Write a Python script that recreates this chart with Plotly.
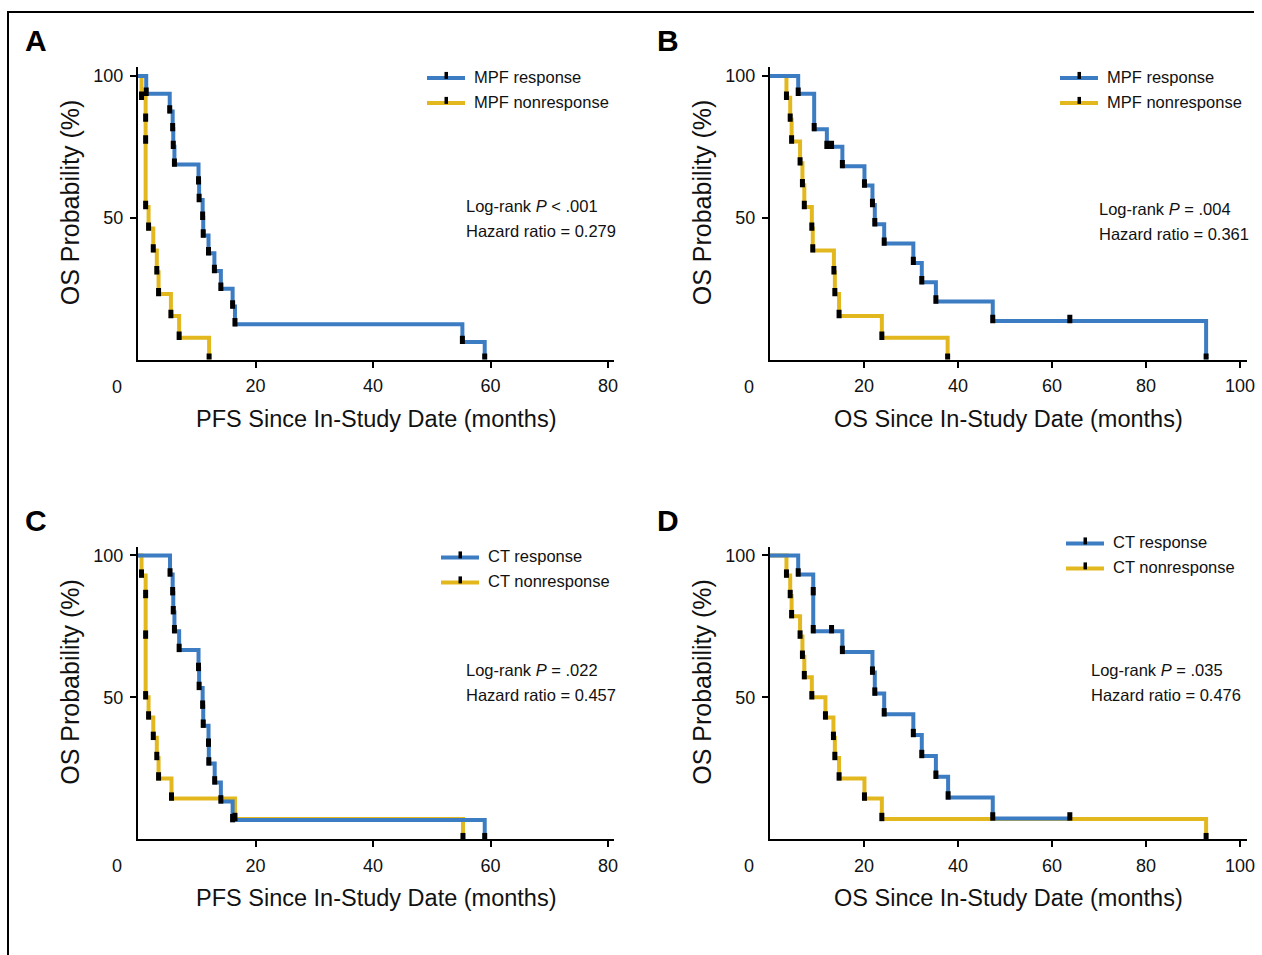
import plotly.graph_objects as go

W, H = 1262, 955
SX = 1262 / 1254  # horizontal compensation for the capture
BLUE = "#3c7cc2"
YELLOW = "#e2b81e"

# ---------------- data ----------------
# Panel A (PFS, MPF)
a_resp_t = [0, 1.4, 5.4, 5.9, 6.0, 6.2, 10.3, 10.4, 11.0, 11.1, 12.0, 13.0, 14.1, 16.1, 16.5, 55.2, 59.0]
a_resp_s = [100, 93.75, 87.5, 81.25, 75.0, 68.75, 62.5, 56.25, 50.0, 43.75, 37.5, 31.25, 25.0, 18.75, 12.5, 6.25, 0]
a_resp_mt = a_resp_t[1:]
a_resp_ms = a_resp_s[1:]
a_non_t = [0, 0.6, 1.3, 1.8, 2.6, 3.2, 3.5, 5.6, 7.0, 12.1]
a_non_s = [100, 92.3, 53.8, 46.2, 38.5, 30.8, 23.1, 15.4, 7.7, 0]
a_non_mt = [0.6, 1.3, 1.3, 1.3, 1.8, 2.6, 3.2, 3.5, 5.6, 7.0, 12.1]
a_non_ms = [92.3, 84.6, 76.9, 53.8, 46.2, 38.5, 30.8, 23.1, 15.4, 7.7, 0]

# Panel B (OS, MPF)
b_resp_t = [0, 6.0, 9.4, 12.1, 15.4, 20.1, 21.8, 22.3, 24.3, 30.5, 32.3, 35.3, 47.4, 92.8]
b_resp_s = [100, 93.75, 81.25, 75.0, 68.2, 61.4, 54.5, 47.7, 40.9, 34.1, 27.3, 20.5, 13.6, 0]
b_resp_mt = [6.0, 9.4, 12.1, 13.1, 15.4, 20.1, 21.8, 22.3, 24.3, 30.5, 32.3, 35.3, 47.4, 63.8, 92.8]
b_resp_ms = [93.75, 81.25, 75.0, 75.0, 68.2, 61.4, 54.5, 47.7, 40.9, 34.1, 27.3, 20.5, 13.6, 13.6, 0]
b_non_t = [0, 3.5, 4.3, 4.6, 6.4, 6.9, 7.3, 8.9, 9.1, 13.6, 13.8, 14.7, 23.8, 37.8]
b_non_s = [100, 92.3, 84.6, 76.9, 69.2, 61.5, 53.8, 46.2, 38.5, 30.8, 23.1, 15.4, 7.7, 0]
b_non_mt = b_non_t[1:]
b_non_ms = b_non_s[1:]

# Panel C (PFS, CT)
c_resp_t = [0, 5.45, 5.9, 6.0, 6.2, 7.0, 10.3, 10.4, 11.0, 11.1, 12.0, 12.05, 13.05, 14.1, 16.1, 59.0]
c_resp_s = [100, 93.3, 86.7, 80.0, 73.3, 66.7, 60.0, 53.3, 46.7, 40.0, 33.3, 26.7, 20.0, 13.3, 6.7, 0]
c_resp_mt = c_resp_t[1:]
c_resp_ms = c_resp_s[1:]
c_non_t = [0, 0.6, 1.3, 1.8, 2.6, 3.2, 3.5, 5.7, 16.5, 55.3]
c_non_s = [100, 92.9, 50.0, 42.9, 35.7, 28.6, 21.4, 14.3, 7.1, 0]
c_non_mt = [0.6, 1.3, 1.3, 1.3, 1.8, 2.6, 3.2, 3.5, 5.7, 16.5, 55.3]
c_non_ms = [92.9, 85.7, 71.4, 50.0, 42.9, 35.7, 28.6, 21.4, 14.3, 7.1, 0]

# Panel D (OS, CT)
d_resp_t = [0, 6.0, 9.2, 15.4, 21.8, 22.3, 24.3, 30.5, 32.3, 35.3, 37.9, 47.4, 63.8]
d_resp_s = [100, 93.3, 73.3, 66.0, 58.7, 51.3, 44.0, 36.7, 29.3, 22.0, 14.7, 7.3, 7.3]
d_resp_mt = [6.0, 9.2, 9.2, 13.1, 15.4, 21.8, 22.3, 24.3, 30.5, 32.3, 35.3, 37.9, 47.4, 63.8]
d_resp_ms = [93.3, 86.7, 73.3, 73.3, 66.0, 58.7, 51.3, 44.0, 36.7, 29.3, 22.0, 14.7, 7.3, 7.3]
d_non_t = [0, 3.5, 4.3, 4.6, 6.4, 6.9, 7.3, 8.9, 11.8, 13.5, 13.8, 14.7, 20.1, 23.8, 92.8]
d_non_s = [100, 92.9, 85.7, 78.6, 71.4, 64.3, 57.1, 50.0, 42.9, 35.7, 28.6, 21.4, 14.3, 7.1, 0]
d_non_mt = d_non_t[1:]
d_non_ms = d_non_s[1:]

panel_letters = ["A", "B", "C", "D"]
x_titles = ["PFS Since In-Study Date (months)", "OS Since In-Study Date (months)",
            "PFS Since In-Study Date (months)", "OS Since In-Study Date (months)"]
y_title = "OS Probability (%)"
legend_labels = [["MPF response", "MPF nonresponse"], ["MPF response", "MPF nonresponse"],
                 ["CT response", "CT nonresponse"], ["CT response", "CT nonresponse"]]
logrank_text = ["Log-rank <i>P</i> < .001", "Log-rank <i>P</i> = .004",
                "Log-rank <i>P</i> = .022", "Log-rank <i>P</i> = .035"]
hazard_text = ["Hazard ratio = 0.279", "Hazard ratio = 0.361",
               "Hazard ratio = 0.457", "Hazard ratio = 0.476"]
x_ticks_pfs = [20, 40, 60, 80]
x_ticks_os = [20, 40, 60, 80, 100]
y_ticks = [50, 100]

panels = [
    dict(resp=(a_resp_t, a_resp_s, a_resp_mt, a_resp_ms), non=(a_non_t, a_non_s, a_non_mt, a_non_ms),
         xr=[0, 81], ticks=x_ticks_pfs, px=(138, 614), py=(66.5, 359),
         letter=(36, 40), leg=(427, 76), stats=(464, 205)),
    dict(resp=(b_resp_t, b_resp_s, b_resp_mt, b_resp_ms), non=(b_non_t, b_non_s, b_non_mt, b_non_ms),
         xr=[0, 101.5], ticks=x_ticks_os, px=(770, 1247), py=(66.5, 359),
         letter=(668, 40), leg=(1060, 76), stats=(1097, 208)),
    dict(resp=(c_resp_t, c_resp_s, c_resp_mt, c_resp_ms), non=(c_non_t, c_non_s, c_non_mt, c_non_ms),
         xr=[0, 81], ticks=x_ticks_pfs, px=(138, 614), py=(546.5, 839),
         letter=(36, 520), leg=(441, 556), stats=(464, 670)),
    dict(resp=(d_resp_t, d_resp_s, d_resp_mt, d_resp_ms), non=(d_non_t, d_non_s, d_non_mt, d_non_ms),
         xr=[0, 101.5], ticks=x_ticks_os, px=(770, 1247), py=(546.5, 839),
         letter=(668, 520), leg=(1066, 542), stats=(1089, 670)),
]


def fx(x):
    return min(1.0, x * SX / W)


def fy(y):
    return 1 - y / H


fig = go.Figure()
layout = dict(width=W, height=H, margin=dict(l=0, r=0, t=0, b=0),
              paper_bgcolor="white", plot_bgcolor="white", showlegend=False)
annotations = []
shapes = []

TICKFONT = dict(family="Liberation Sans, Arial, sans-serif", size=18, color="#111")
XTITLEFONT = dict(family="Liberation Sans Narrow, Arial Narrow, sans-serif", size=23.5, color="#111")
YTITLEFONT = dict(family="Liberation Sans Narrow, Arial Narrow, sans-serif", size=25, color="#111")
TEXTFONT = dict(family="Liberation Sans, Arial, sans-serif", size=16.5, color="#111")
MARK_OFF = 0.7

for i, p in enumerate(panels):
    k = "" if i == 0 else str(i + 1)
    xa, ya = "x" + k, "y" + k
    for key, col in (("non", YELLOW), ("resp", BLUE)):
        t, s, mt, ms = p[key]
        fig.add_trace(go.Scatter(x=t, y=s, mode="lines", line=dict(color=col, width=4, shape="hv"),
                                 xaxis=xa, yaxis=ya, hoverinfo="skip"))
    for key in ("non", "resp"):
        t, s, mt, ms = p[key]
        fig.add_trace(go.Scatter(x=mt, y=[v + MARK_OFF for v in ms], mode="markers",
                                 marker=dict(symbol="line-ns", size=6, line=dict(width=5, color="black")),
                                 xaxis=xa, yaxis=ya, hoverinfo="skip"))
    x0, x1 = p["px"]
    y0, y1 = p["py"]
    layout["xaxis" + k] = dict(domain=[fx(x0), fx(x1)], range=p["xr"], anchor=ya,
                               showline=True, linecolor="black", linewidth=2,
                               showgrid=False, zeroline=False, tickmode="array",
                               tickvals=p["ticks"], ticks="outside", ticklen=6, tickwidth=1.5,
                               tickcolor="black", tickfont=TICKFONT, ticklabelstandoff=3)
    layout["yaxis" + k] = dict(domain=[fy(y1), fy(y0)], range=[0, 103], anchor=xa,
                               showline=True, linecolor="black", linewidth=2,
                               showgrid=False, zeroline=False, tickmode="array",
                               tickvals=y_ticks, ticks="outside", ticklen=6, tickwidth=1.5,
                               tickcolor="black", tickfont=TICKFONT, ticklabelstandoff=3)
    # origin "0" label
    annotations.append(dict(x=fx(x0 - 21), y=fy(y1 + 27), xref="paper", yref="paper", text="0",
                            showarrow=False, font=TICKFONT, xanchor="center", yanchor="middle"))
    # axis titles
    annotations.append(dict(x=fx((x0 + x1) / 2), y=fy(y1 + 59), xref="paper", yref="paper",
                            text=x_titles[i], showarrow=False, font=XTITLEFONT,
                            xanchor="center", yanchor="middle"))
    annotations.append(dict(x=fx(x0 - 68), y=fy(y0 + 135), xref="paper", yref="paper",
                            text=y_title, showarrow=False, font=YTITLEFONT, textangle=-90,
                            xanchor="center", yanchor="middle"))
    # panel letter
    lx, ly = p["letter"]
    annotations.append(dict(x=fx(lx), y=fy(ly), xref="paper", yref="paper", text="<b>%s</b>" % panel_letters[i],
                            showarrow=False, font=dict(family="Liberation Sans, Arial, sans-serif", size=30, color="black"),
                            xanchor="center", yanchor="middle"))
    # legend
    gx, gy = p["leg"]
    for j, col in enumerate((BLUE, YELLOW)):
        yy = gy + 25 * j
        shapes.append(dict(type="line", xref="paper", yref="paper", x0=fx(gx), x1=fx(gx + 38),
                           y0=fy(yy + 1), y1=fy(yy + 1), line=dict(color=col, width=4)))
        shapes.append(dict(type="rect", xref="paper", yref="paper", x0=fx(gx + 17.5), x1=fx(gx + 21),
                           y0=fy(yy + 2), y1=fy(yy - 5), line=dict(width=0), fillcolor="black"))
        annotations.append(dict(x=fx(gx + 45), y=fy(yy), xref="paper", yref="paper",
                                text=legend_labels[i][j], showarrow=False, font=TEXTFONT,
                                xanchor="left", yanchor="middle"))
    # stats text
    sx, sy = p["stats"]
    annotations.append(dict(x=fx(sx), y=fy(sy), xref="paper", yref="paper", text=logrank_text[i],
                            showarrow=False, font=TEXTFONT, xanchor="left", yanchor="middle"))
    annotations.append(dict(x=fx(sx), y=fy(sy + 25), xref="paper", yref="paper", text=hazard_text[i],
                            showarrow=False, font=TEXTFONT, xanchor="left", yanchor="middle"))

# outer frame (top and left edges)
shapes.append(dict(type="line", xref="paper", yref="paper", x0=fx(8), x1=1, y0=fy(11), y1=fy(11),
                   line=dict(color="black", width=2)))
shapes.append(dict(type="line", xref="paper", yref="paper", x0=fx(8), x1=fx(8), y0=fy(10), y1=0,
                   line=dict(color="black", width=2)))

layout["annotations"] = annotations
layout["shapes"] = shapes
fig.update_layout(**layout)
fig.write_html("out.html")
